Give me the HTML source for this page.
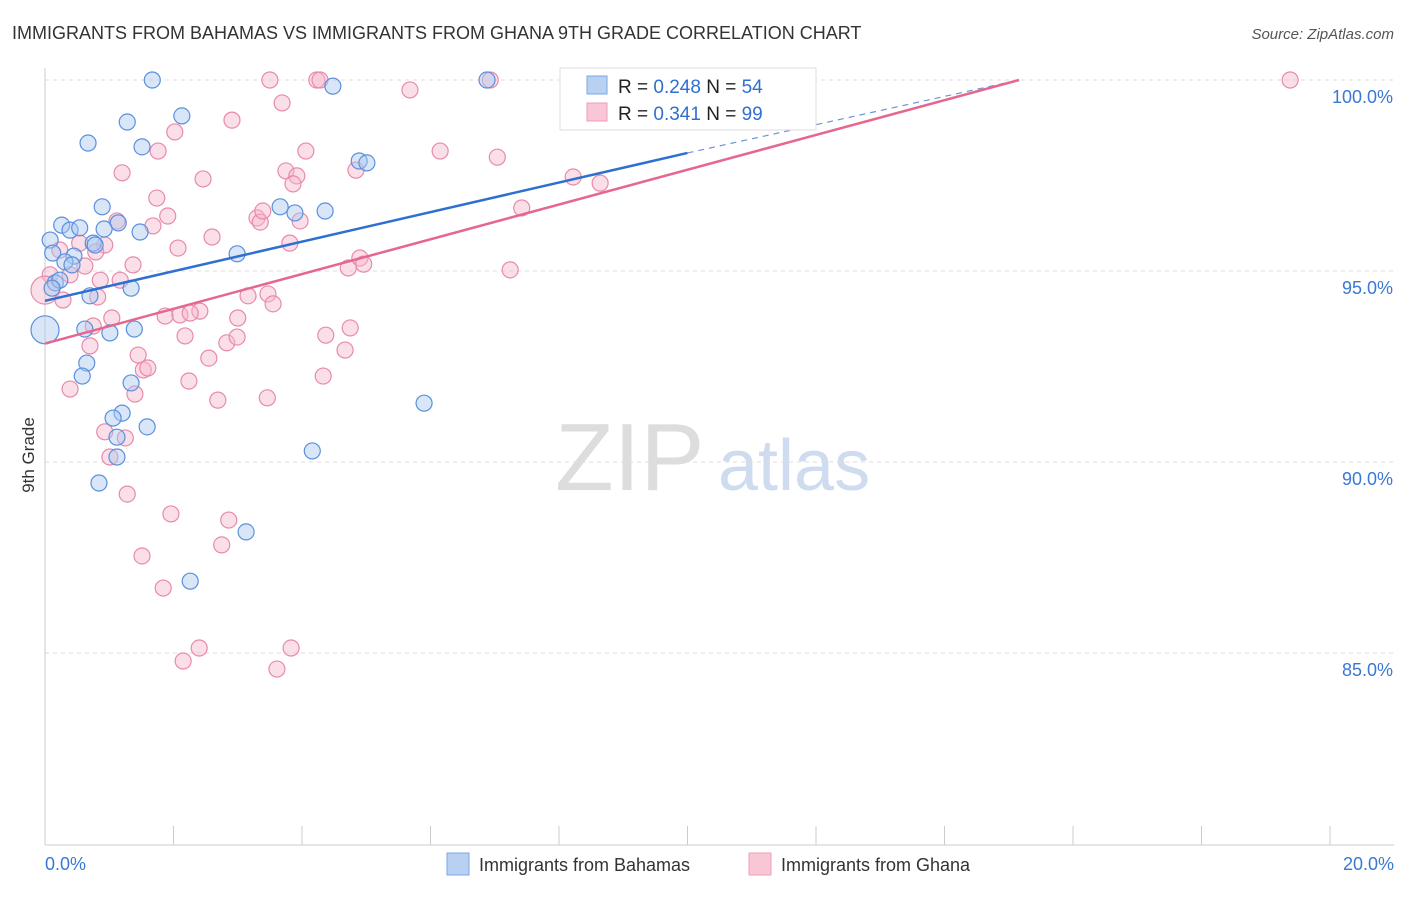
<!DOCTYPE html>
<html><head><meta charset="utf-8"><style>
body{margin:0;background:#fff;font-family:"Liberation Sans",sans-serif;}
svg text{font-family:"Liberation Sans",sans-serif;}
</style></head><body>
<svg id="c" width="1406" height="892" xmlns="http://www.w3.org/2000/svg">
<text x="12" y="39" font-size="18" fill="#333">IMMIGRANTS FROM BAHAMAS VS IMMIGRANTS FROM GHANA 9TH GRADE CORRELATION CHART</text>
<text x="1394" y="39" font-size="15" fill="#555" text-anchor="end" font-style="italic">Source: ZipAtlas.com</text>
<text x="555" y="490" font-size="96" fill="#ddd" font-family="Liberation Serif">ZIP</text>
<text x="718" y="490" font-size="72" fill="#cfdcf0">atlas</text>
<text x="34" y="455" font-size="17" fill="#333" transform="rotate(-90 34 455)" text-anchor="middle">9th Grade</text>
<g id="grid"></g><g id="pts"></g><g id="lines"></g>
<g>
<rect x="560" y="68" width="256" height="62" fill="#fff" stroke="#ddd"/>
<rect x="587" y="76" width="20" height="18" fill="#b8d1f3" stroke="#7aa7e6"/>
<rect x="587" y="103" width="20" height="18" fill="#f9c6d6" stroke="#ee9cb8"/>
<text x="618" y="93" font-size="19" fill="#222">R = <tspan fill="#2f6fd0">0.248</tspan>   N = <tspan fill="#2f6fd0">54</tspan></text>
<text x="618" y="120" font-size="19" fill="#222">R =  <tspan fill="#2f6fd0">0.341</tspan>   N = <tspan fill="#2f6fd0">99</tspan></text>
</g>
<g>
<rect x="447" y="853" width="22" height="22" fill="#b8d1f3" stroke="#7aa7e6"/>
<text x="479" y="871" font-size="18" fill="#333">Immigrants from Bahamas</text>
<rect x="749" y="853" width="22" height="22" fill="#f9c6d6" stroke="#ee9cb8"/>
<text x="781" y="871" font-size="18" fill="#333">Immigrants from Ghana</text>
</g>
</svg>
<script>
const xTicks=[0,2,4,6,8,10,12,14,16,18,20];
const yTicks=[85,90,95,100];
const yTickLabels=["85.0%","90.0%","95.0%","100.0%"];
const blueX=[1.67,4.48,6.88,2.13,1.28,0.67,1.51,4.89,5.01,0.89,3.66,3.89,4.36,0.26,0.39,0.54,1.14,0.92,1.48,0.08,0.75,0.78,0.12,0.45,0.31,0.42,2.99,0.16,0.23,0.11,1.34,0.70,0.0,0.62,1.01,1.39,0.65,0.58,1.34,5.90,1.20,1.06,1.59,1.12,1.12,4.16,0.84,3.13,2.26];
const blueY=[100,99.84,100,99.06,98.90,98.35,98.25,97.88,97.83,96.68,96.68,96.52,96.57,96.20,96.07,96.13,96.26,96.10,96.02,95.81,95.73,95.68,95.47,95.39,95.24,95.16,95.45,94.69,94.76,94.55,94.55,94.35,93.46,93.48,93.38,93.48,92.59,92.25,92.07,91.54,91.28,91.15,90.92,90.65,90.13,90.29,89.45,88.17,86.88];
const pinkX=[3.50,4.23,4.28,6.93,19.38,5.68,3.69,2.91,2.02,1.76,4.06,6.15,7.04,1.20,3.75,3.92,2.46,3.86,8.22,8.64,4.84,1.74,1.91,1.12,1.68,3.30,3.35,3.39,3.97,7.42,2.60,3.81,2.07,0.93,0.54,0.23,0.79,4.90,4.96,4.72,7.24,1.37,0.62,0.39,0.86,1.17,0.08,0.0,0.28,0.82,3.16,3.47,3.55,2.41,1.87,2.10,2.26,1.04,3.00,0.75,2.18,4.37,4.75,2.83,2.99,0.70,4.67,1.45,2.55,1.53,1.60,4.33,2.24,0.39,1.40,2.69,3.46,0.93,1.25,1.01,1.28,1.96,2.86,2.75,1.51,1.84,2.15,2.40,3.61,3.83];
const pinkY=[100,100,100,100,100,99.74,99.40,98.95,98.64,98.14,98.14,98.14,97.98,97.57,97.62,97.49,97.41,97.28,97.46,97.30,97.64,96.91,96.44,96.31,96.18,96.39,96.28,96.57,96.31,96.65,95.89,95.73,95.60,95.68,95.73,95.55,95.50,95.34,95.18,95.08,95.03,95.16,95.13,94.90,94.76,94.76,94.90,94.50,94.24,94.32,94.35,94.40,94.14,93.95,93.82,93.85,93.90,93.77,93.77,93.56,93.30,93.32,93.51,93.12,93.27,93.04,92.93,92.80,92.72,92.41,92.46,92.25,92.12,91.91,91.78,91.62,91.68,90.79,90.63,90.13,89.16,88.64,88.48,87.83,87.54,86.70,84.79,85.13,84.58,85.13];
const blueTrend=[[0,94.22],[10,98.09],[15.16,100]];
const pinkTrend=[[0,93.1],[15.16,100]];
const NS="http://www.w3.org/2000/svg";
const X=v=>45+v*64.25, Y=v=>80+(100-v)*38.2;
function mk(t,a,p){const e=document.createElementNS(NS,t);for(const k in a)e.setAttribute(k,a[k]);p.appendChild(e);return e;}
const grid=document.getElementById('grid');
yTicks.forEach((t,i)=>{
 const l=mk('line',{x1:45,x2:1394,y1:Y(t),y2:Y(t),stroke:'#ddd','stroke-dasharray':'4,4'},grid);
 
 
 const tx=mk('text',{x:1393,y:Y(t)+23,'font-size':18,fill:'#3a78d4','text-anchor':'end'},grid);
 tx.textContent=yTickLabels[i];
 
 
});
mk('line',{x1:45,x2:45,y1:68,y2:845,stroke:'#ccc'},grid);
mk('line',{x1:45,x2:1394,y1:845,y2:845,stroke:'#ccc'},grid);
xTicks.forEach(t=>{
 const l=mk('line',{x1:X(t),x2:X(t),y1:826,y2:845,stroke:'#ccc'},grid);
 
 
});
const t0=mk('text',{x:45,y:870,'font-size':18,fill:'#3a78d4'},grid);t0.textContent='0.0%';


const t1=mk('text',{x:1394,y:870,'font-size':18,fill:'#3a78d4','text-anchor':'end'},grid);t1.textContent='20.0%';


const pts=document.getElementById('pts');
function dots(xs,ys,fill,stroke,name){
 xs.forEach((x,i)=>{
  const big=(x===0);
  const c=mk('circle',{cx:X(x),cy:Y(ys[i]),r:big?14:8,fill:fill,'fill-opacity':0.45,stroke:stroke,'stroke-width':1.2},pts);
  
  
 });
}
dots(pinkX,pinkY,'#f6b9cd','#e88aab','ghana-point');
dots(blueX,blueY,'#a9c7f0','#5b8fde','bahamas-point');
const lines=document.getElementById('lines');
const b1=mk('line',{x1:X(blueTrend[0][0]),y1:Y(blueTrend[0][1]),x2:X(blueTrend[1][0]),y2:Y(blueTrend[1][1]),stroke:'#2f6fd0','stroke-width':2.5},lines);


const b2=mk('line',{x1:X(blueTrend[1][0]),y1:Y(blueTrend[1][1]),x2:X(blueTrend[2][0]),y2:Y(blueTrend[2][1]),stroke:'#6b97d8','stroke-width':1.2,'stroke-dasharray':'6,5'},lines);


const p1=mk('line',{x1:X(pinkTrend[0][0]),y1:Y(pinkTrend[0][1]),x2:X(pinkTrend[1][0]),y2:Y(pinkTrend[1][1]),stroke:'#e5678f','stroke-width':2.5},lines);


</script>
</body></html>
